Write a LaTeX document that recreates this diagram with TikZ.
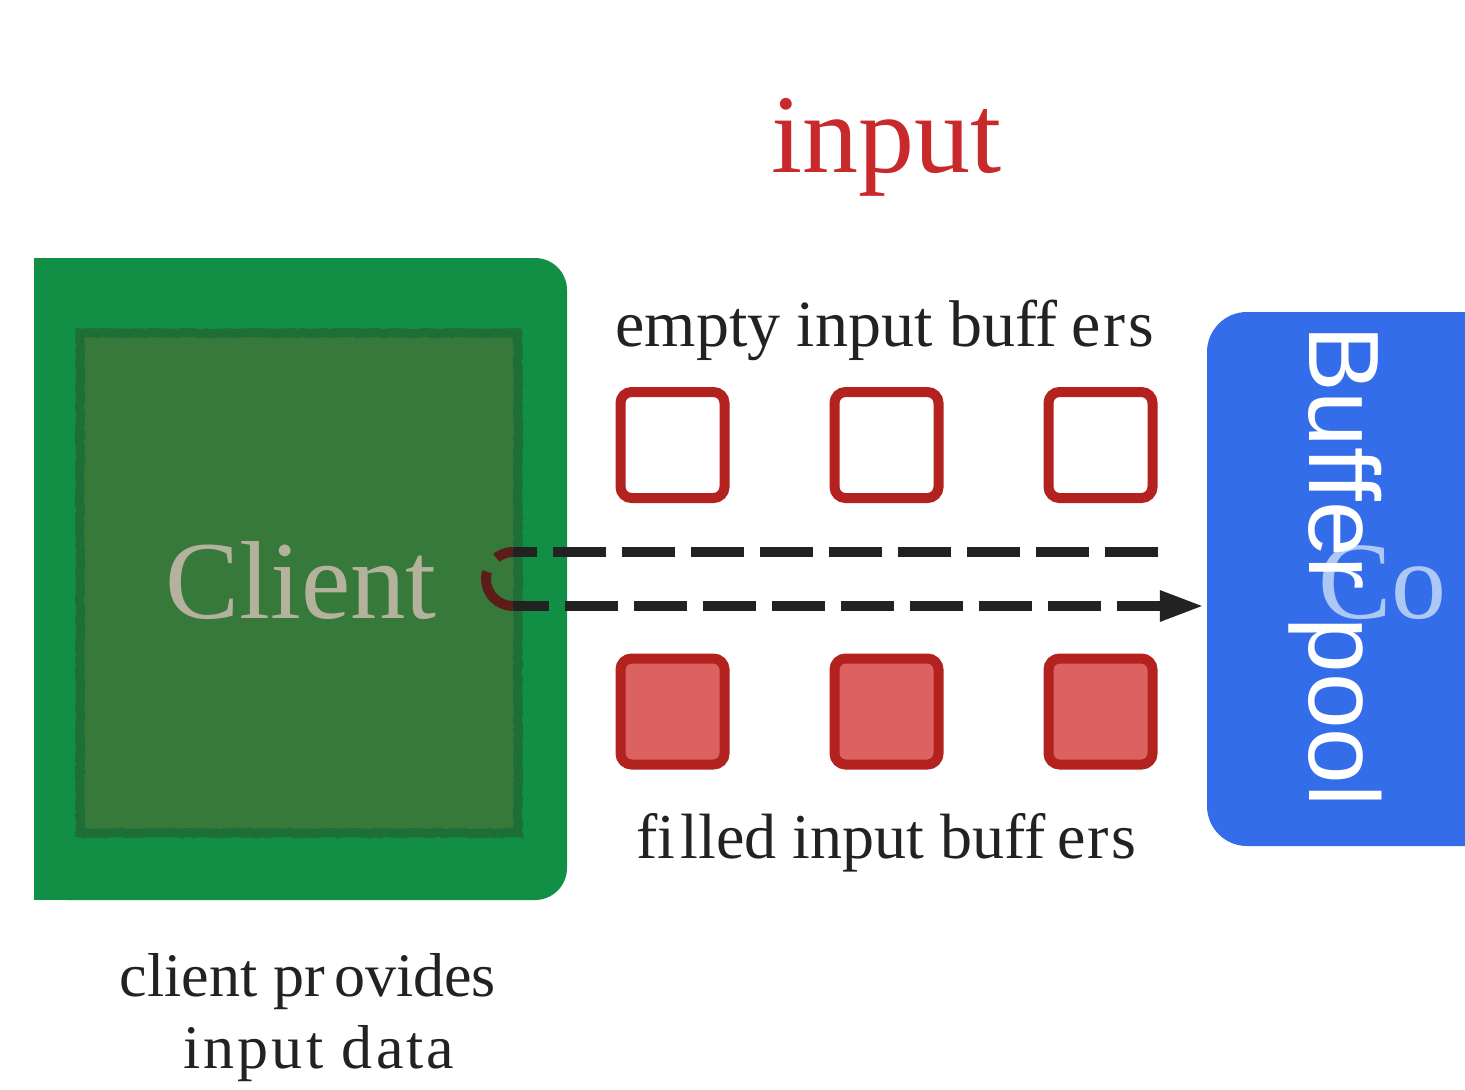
\documentclass[tikz,border=0pt]{standalone}
\usepackage{fontspec}
\setmainfont{Liberation Serif}
\newfontfamily\poolfont{Liberation Sans}
\usetikzlibrary{arrows.meta,decorations.pathmorphing}

\definecolor{cgreen}{HTML}{118F45}
\definecolor{cinner}{HTML}{37793A}
\definecolor{cinnerrim}{HTML}{1E6E37}
\definecolor{ctext}{HTML}{B4B29C}
\definecolor{bufred}{HTML}{B3221F}
\definecolor{buffill}{HTML}{DC6262}
\definecolor{titlered}{HTML}{C8292B}
\definecolor{poolblue}{HTML}{336DEA}
\definecolor{codectext}{HTML}{AEC8F6}
\definecolor{ink}{HTML}{222222}
\definecolor{loopc}{HTML}{5C1C18}

\begin{document}
\begin{tikzpicture}[x=1pt,y=-1pt,
  buf/.style={draw=bufred, line width=10pt, rounded corners=11pt,
    minimum width=104pt, minimum height=106pt, inner sep=0pt},
  emptybuf/.style={buf, fill=white},
  fullbuf/.style={buf, fill=buffill},
  bufnote/.style={text=ink, font=\fontsize{66}{70}\selectfont, inner sep=0pt, anchor=base},
  flow/.style={draw=ink, line width=10pt, dash pattern=on 53pt off 16pt},
]
\useasboundingbox (0,0) rectangle (1465,1090);

% client block: outer green panel, rounded on the right only
\fill[cgreen, rounded corners=32pt] (34,258) rectangle (567,900);
\fill[cgreen] (34,258) rectangle (90,900);
% inner panel with a rough rim
\pgfmathsetseed{7}
\fill[cinner] (80,333) rectangle (518,833);
\draw[cinnerrim, line width=9pt, decorate,
  decoration={random steps, segment length=3pt, amplitude=0.8pt}]
  (80,333) rectangle (518,833);
\node[text=ctext, font=\fontsize{111}{111}\selectfont, anchor=base, inner sep=0pt]
  (client) at (301,618) {Client};

% buffer pool block
\node[fill=poolblue, rounded corners=40pt, minimum width=313pt,
  minimum height=534pt, inner sep=0pt] (pool) at (1363.5,579) {};
\node[text=codectext, font=\fontsize{110}{110}\selectfont, anchor=base west,
  inner sep=0pt] (codec) at (1318,618) {Co};
\node[rotate=-90, text=white, font=\poolfont\fontsize{100}{100}\selectfont,
  inner sep=0pt] (pooltxt) at (1335,566) {Buffer pool};

% title
\node[text=titlered, font=\fontsize{112}{112}\selectfont, anchor=base,
  inner sep=0pt] (title) at (886.5,172) {input};

% buffers
\node[emptybuf] (e1) at (672.5,445) {};
\node[emptybuf] (e2) at (886.5,445) {};
\node[emptybuf] (e3) at (1100.5,445) {};
\node[fullbuf] (f1) at (672.5,711.5) {};
\node[fullbuf] (f2) at (886.5,711.5) {};
\node[fullbuf] (f3) at (1100.5,711.5) {};

\node[bufnote] (emptynote) at (885,346)
  {empty input buff\kern0.2em e\kern0.05em r\kern0.05em s};
\node[bufnote, font=\fontsize{64}{70}\selectfont] (fullnote) at (886.5,858)
  {fi\kern0.08em lled input buff\kern0.18em e\kern0.04em r\kern0.04em s};

% buffer loop between client and pool
\coordinate (loopTop) at (513,552);
\coordinate (loopBot) at (513,606);
\draw[flow] (e3.east |- loopTop) -- (loopTop);
\draw[draw=loopc, line width=10pt, dash pattern=on 18pt off 17pt on 60pt off 10pt]
  (loopTop) arc[start angle=270, end angle=90, radius=27];
\draw[flow, dash phase=17pt, shorten >=5pt,
  -{Triangle[length=42pt,width=32pt,line width=0pt]}]
  (loopBot) -- (pool.west |- loopBot);

% caption under the client
\node[text=ink, font=\fontsize{62}{70}\selectfont, anchor=base, inner sep=0pt]
  (cap1) at (308,996) {client pr\kern0.15em ovides};
\node[text=ink, font=\fontsize{62}{70}\selectfont\addfontfeature{LetterSpace=5},
  anchor=base, inner sep=0pt] (cap2) at (319,1068) {input data};
\end{tikzpicture}
\end{document}
